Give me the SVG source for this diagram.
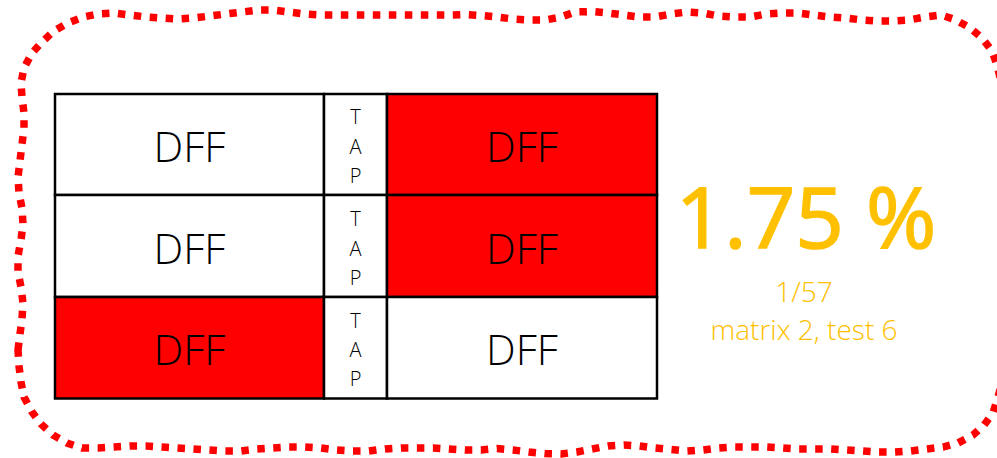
<svg xmlns="http://www.w3.org/2000/svg" width="997" height="458" viewBox="0 0 997 458">
<style>
.cell{stroke:#000;stroke-width:2.5}
.w{fill:#fff}
.r{fill:#ff0000}
.dff{font-family:"Open Sans","Liberation Sans",sans-serif;font-weight:300;font-size:42px;fill:#000;text-anchor:middle}
.tap{font-family:"Open Sans","Liberation Sans",sans-serif;font-weight:300;font-size:20px;fill:#000;text-anchor:middle}
.big{font-family:"Open Sans","Liberation Sans",sans-serif;font-size:85px;fill:#ffc000;stroke:#ffc000;stroke-width:1.6;text-anchor:middle}
.small{font-family:"Open Sans","Liberation Sans",sans-serif;font-weight:300;font-size:28px;fill:#ffc000;text-anchor:middle}
.border{fill:none;stroke:#ff0000;stroke-width:7.5;stroke-dasharray:7.5 8.5}
</style>
<rect width="997" height="458" fill="#fff"/>
<g id="frame">
<path class="border" d="M18,350 L20,334 L22,319 L23,303 L21,287 L18,272 L18,256 L21,240 L23,224 L22,208 L19,193 L18,177 L20,161 L22,144 L24,129 L24,113 L22,97 L21,83 L24,68 L32,53 L42,42 L54,31 L68,23 L83,17 L98,14 L114,13 L130,15 L146,17 L162,18 L178,19 L194,18 L210,16 L226,14 L242,12 L258,10 L273,10 L289,12 L305,14 L321,15 L337,15 L353,15 L369,15 L385,15 L401,15 L417,15 L433,15 L449,15 L465,14.5 L481,15.5 L497,17 L513,19 L529,20 L545,20 L561,17 L575,12 L592,11.5 L608,13 L624,15 L639,17 L655,17 L671,14 L687,12 L703,13 L718,16 L734,17 L750,17 L766,14 L782,13 L798,13 L814,15 L830,17 L846,18 L862,20 L877,21 L893,21 L909,20 L925,17 L941,15 L956,20 L970,28 L982,38 L992,51 L997,65 L1003,90 L1005,230 L1003,380 L997,400 L993,413 L984,425 L973,435 L958,443 L943,447 L927,449 L911,451 L894,452 L878,452 L863,451 L847,450 L831,449 L815,449 L799,449 L783,448 L767,447 L751,447 L735,447 L719,448 L703,450 L687,451 L671,449.5 L655,448 L639,446 L624,445 L608,446 L592,449 L577,452 L561,454 L545,453.5 L529,452 L513,450 L497,448.5 L481,450 L465,450 L449,449 L433,448 L417,448 L401,448 L385,449 L369,451 L353,451 L337,450 L321,448 L305,447 L289,447 L273,448 L257,449 L241,451 L225,451 L209,450 L193,449 L177,448 L162,447 L146,446 L130,446 L114,447 L98,448 L82,448 L67,443 L53,435 L41,424 L32,412 L24,397 L21,382 L19,366 Z"/>
</g>
<g id="r1c1"><rect class="cell w" x="55" y="94" width="269" height="101"/><text class="dff" x="189.5" y="162">DFF</text></g>
<g id="r1tap"><rect class="cell w" x="324" y="94" width="63" height="101"/><text class="tap" x="355.5" y="124">T</text><text class="tap" x="355.5" y="154">A</text><text class="tap" x="355.5" y="183">P</text></g>
<g id="r1c3"><rect class="cell r" x="387" y="94" width="270" height="101"/><text class="dff" x="522" y="162">DFF</text></g>
<g id="r2c1"><rect class="cell w" x="55" y="195" width="269" height="102"/><text class="dff" x="189.5" y="263.5">DFF</text></g>
<g id="r2tap"><rect class="cell w" x="324" y="195" width="63" height="102"/><text class="tap" x="355.5" y="225.5">T</text><text class="tap" x="355.5" y="255.5">A</text><text class="tap" x="355.5" y="284.5">P</text></g>
<g id="r2c3"><rect class="cell r" x="387" y="195" width="270" height="102"/><text class="dff" x="522" y="263.5">DFF</text></g>
<g id="r3c1"><rect class="cell r" x="55" y="297" width="269" height="101.5"/><text class="dff" x="189.5" y="365">DFF</text></g>
<g id="r3tap"><rect class="cell w" x="324" y="297" width="63" height="101.5"/><text class="tap" x="355.5" y="327.5">T</text><text class="tap" x="355.5" y="357">A</text><text class="tap" x="355.5" y="386">P</text></g>
<g id="r3c3"><rect class="cell w" x="387" y="297" width="270" height="101.5"/><text class="dff" x="522" y="365">DFF</text></g>
<g id="result">
<text class="big" x="806" y="248">1.75 %</text>
<text class="small" x="804" y="302">1/57</text>
<text class="small" x="804" y="340">matrix 2, test 6</text>
</g>
<g id="connectors"/>
</svg>
